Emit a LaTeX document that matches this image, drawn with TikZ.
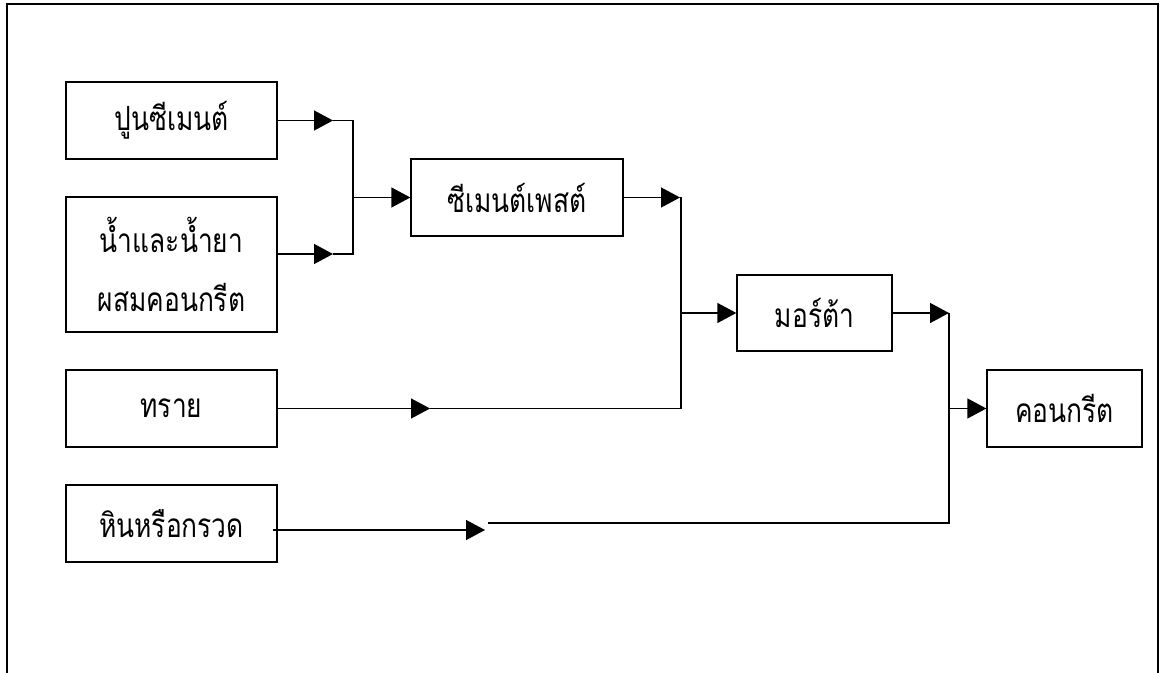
\documentclass[tikz,border=0pt]{standalone}
\usepackage{fontspec}
\newfontfamily\thaifont[Script=Thai,FakeStretch=0.79]{Loma}
\usetikzlibrary{arrows.meta}
\tikzset{
  box/.style={draw, line width=1pt, rectangle, inner sep=0pt, align=center, font=\thaifont\fontsize{25}{44}\selectfont},
  ln/.style={line width=1pt},
  arr/.style={line width=1pt, -{Triangle[length=14.25pt,width=15pt]}},
}
\begin{document}
\begin{tikzpicture}[x=0.75pt,y=-0.75pt]
\useasboundingbox (0,0) rectangle (1163,673);
\draw[line width=1.2pt] (7,673) -- (7,4) -- (1158,4) -- (1158,673);
% boxes
\node[box, minimum width=158.25pt, minimum height=57.75pt] (cement) at (171.5,120.5) {ปูนซีเมนต์};
\node[box, minimum width=158.25pt, minimum height=101.25pt] (water) at (171.5,264.5) {น้ำและน้ำยา\\ผสมคอนกรีต};
\node[box, minimum width=159pt, minimum height=57.75pt] (paste) at (517,197.5) {ซีเมนต์เพสต์};
\node[box, minimum width=158.25pt, minimum height=57.75pt] (sand) at (171.5,408.5) {ทราย};
\node[box, minimum width=158.25pt, minimum height=57.75pt] (stone) at (171.5,523.5) {หินหรือกรวด};
\node[box, minimum width=116.25pt, minimum height=57pt] (mortar) at (814.5,313) {มอร์ต้า};
\node[box, minimum width=116.25pt, minimum height=57.75pt] (concrete) at (1064.5,408.5) {คอนกรีต};
% junction coordinates
\coordinate (a1) at (333,120.5);
\coordinate (b1) at (353,120.5);
\coordinate (a2) at (333,254);
\coordinate (b2) at (353,254);
\coordinate (b3) at (353,197.5);
\coordinate (c1) at (680,197.5);
\coordinate (c2) at (681,197.5);
\coordinate (c3) at (681,313);
\coordinate (c4) at (681,408.5);
\coordinate (s1) at (430,408.5);
\coordinate (d1) at (949,313);
\coordinate (d2) at (949,408.5);
\coordinate (d3) at (949,523);
\coordinate (g0) at (273,530);
\coordinate (g1) at (485,530);
\coordinate (g2) at (488,523);
% connectors
\draw[arr] (cement.east |- a1) -- (a1);
\draw[arr] (water.east |- a2) -- (a2);
\draw[ln] (a1) -- (b1) -- (b2) -- (a2);
\draw[arr] (b3) -- (paste.west);
\draw[arr] (paste.east) -- (c1);
\draw[ln] (c1) -- (c2) -- (c4);
\draw[arr] (sand.east) -- (s1);
\draw[ln] (s1) -- (c4);
\draw[arr] (c3) -- (mortar.west);
\draw[arr] (mortar.east) -- (d1);
\draw[ln] (d1) -- (d3) -- (g2);
\draw[arr] (g0) -- (g1);
\draw[arr] (d2) -- (concrete.west);
\end{tikzpicture}
\end{document}
